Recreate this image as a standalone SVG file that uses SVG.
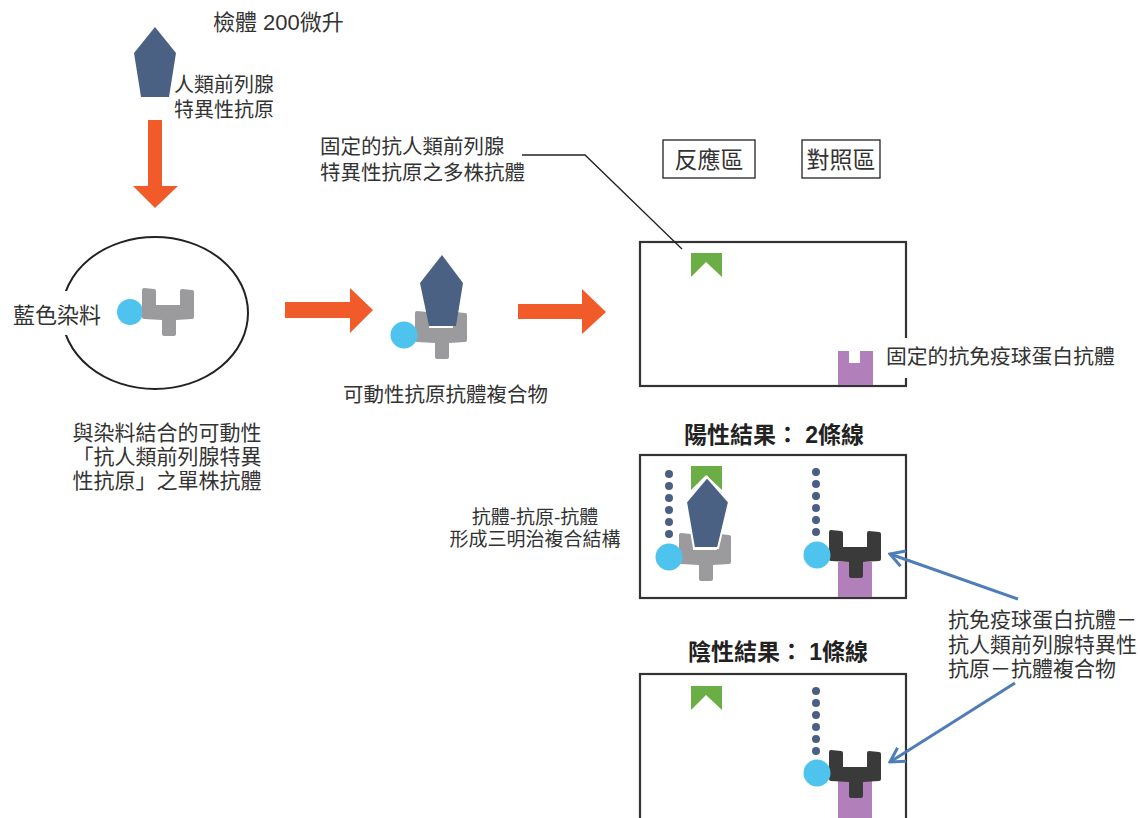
<svg xmlns="http://www.w3.org/2000/svg" width="1140" height="818" viewBox="0 0 1140 818">
  <style>
    .t { font-family: "Liberation Sans", "Noto Sans CJK TC", sans-serif; fill: #333; }
    .b { font-family: "Liberation Sans", "Noto Sans CJK TC", sans-serif; fill: #222; font-weight: bold; }
    .flow { fill: #F15A29; }
    .ag { fill: #4B6184; }
    .dye { fill: #4DC3EE; }
    .gray { fill: #9B9B9E; }
    .dark { fill: #3A3A3A; }
    .green { fill: #6AAE45; }
    .purple { fill: #B17FBA; }
    .dot { fill: #4A5F82; }
    .frame { fill: #fff; stroke: #333; stroke-width: 2.2; }
    .lead { fill: none; stroke: #222; stroke-width: 1.3; }
    .ptr { fill: none; stroke: #4F7DB8; stroke-width: 3; }
  </style>
  <defs>
    <!-- Y-shaped antibody, arms up, 52 x 48 -->
    <path id="ab" d="M2,0 L12,1 Q14,1 14,3 L14,17 L38,17 L38,3 Q38,1 40,1 L50,2 Q52,2 52,4 L52,29 Q52,31 50,31 L34,32 L34,46 Q34,48 32,48 L22,48 Q20,48 20,46 L20,32 L2,31 Q0,31 0,29 L0,2 Q0,0 2,0 Z"/>
    <!-- six-dot dye trail -->
    <g id="dots" class="dot">
      <circle cx="0" cy="0" r="4"/>
      <circle cx="0" cy="12" r="4"/>
      <circle cx="0" cy="24" r="4"/>
      <circle cx="0" cy="36" r="4"/>
      <circle cx="0" cy="48" r="4"/>
      <circle cx="0" cy="60" r="4"/>
    </g>
    <marker id="open" viewBox="-16 -10 18 20" markerWidth="18" markerHeight="20" refX="0" refY="0" markerUnits="userSpaceOnUse" orient="auto">
      <path d="M-14,-8 L0,0 L-14,8" fill="none" stroke="#4F7DB8" stroke-width="3"/>
    </marker>
  </defs>

  <rect width="1140" height="818" fill="#fff"/>

  <!-- sample -->
  <g id="sample">
    <text class="t" x="213" y="30" font-size="22">檢體 200微升</text>
    <polygon class="ag" points="155,27 176,53 169,97 141,97 134,53"/>
    <text class="t" x="174" y="92" font-size="20">人類前列腺</text>
    <text class="t" x="174" y="117" font-size="20">特異性抗原</text>
  </g>

  <!-- labelled dye-antibody conjugate -->
  <g id="conjugate">
    <ellipse cx="155" cy="313" rx="93" ry="76" fill="none" stroke="#222" stroke-width="2"/>
    <rect x="8" y="291" width="96" height="44" fill="#fff"/>
    <text class="t" x="13" y="323" font-size="22">藍色染料</text>
    <circle class="dye" cx="130" cy="312" r="13"/>
    <use href="#ab" class="gray" x="142" y="288"/>
    <text class="t" x="167" y="440" font-size="21" text-anchor="middle">與染料結合的可動性</text>
    <text class="t" x="167" y="464" font-size="21" text-anchor="middle">「抗人類前列腺特異</text>
    <text class="t" x="167" y="488" font-size="21" text-anchor="middle">性抗原」之單株抗體</text>
  </g>

  <!-- mobile antigen-antibody complex -->
  <g id="complex">
    <use href="#ab" class="gray" x="415" y="311"/>
    <polygon class="ag" points="442,255 463,283 456,326 429,326 420,283"/>
    <circle class="dye" cx="404" cy="335" r="13.5"/>
    <text class="t" x="343" y="402" font-size="20.5">可動性抗原抗體複合物</text>
  </g>

  <!-- zone labels -->
  <g id="zone-labels">
    <rect x="663" y="140" width="92" height="38" fill="#fff" stroke="#222" stroke-width="1.3"/>
    <text class="t" x="709" y="168" font-size="23" text-anchor="middle">反應區</text>
    <rect x="802" y="140" width="78" height="38" fill="#fff" stroke="#222" stroke-width="1.3"/>
    <text class="t" x="841" y="168" font-size="23" text-anchor="middle">對照區</text>
    <text class="t" x="320" y="154" font-size="20.5">固定的抗人類前列腺</text>
    <text class="t" x="320" y="180" font-size="20.5">特異性抗原之多株抗體</text>
  </g>

  <!-- test strip -->
  <g id="strip">
    <rect class="frame" x="640" y="242" width="266" height="144"/>
    <path class="green" d="M691,253 L722,253 L722,277 L706,262 L691,277 Z"/>
    <path class="purple" d="M838,351 L849,351 L849,363 L860,363 L860,351 L873,351 L873,385 L838,385 Z"/>
    <rect x="884" y="338" width="252" height="40" fill="#fff"/>
    <text class="t" x="886" y="364" font-size="20.8">固定的抗免疫球蛋白抗體</text>
  </g>

  <!-- positive result -->
  <g id="positive">
    <text class="b" x="774" y="443" font-size="23" text-anchor="middle">陽性結果： 2條線</text>
    <rect class="frame" x="640" y="455" width="266" height="143"/>
    <path class="green" d="M691,466 L722,466 L722,490 L706,475 L691,490 Z"/>
    <use href="#dots" x="669" y="474"/>
    <use href="#ab" class="gray" x="679" y="533"/>
    <polygon class="ag" points="707,477 729,502 718,548 694,548 686,502" stroke="#fff" stroke-width="2"/>
    <circle class="dye" cx="669" cy="557" r="13.5"/>
    <rect class="purple" x="838" y="562" width="34" height="35"/>
    <use href="#dots" x="816" y="472"/>
    <use href="#ab" class="dark" x="829" y="530"/>
    <circle class="dye" cx="817" cy="555" r="13.5"/>
    <text class="t" x="535" y="524" font-size="19" text-anchor="middle">抗體-抗原-抗體</text>
    <text class="t" x="535" y="546" font-size="19" text-anchor="middle">形成三明治複合結構</text>
  </g>

  <!-- negative result -->
  <g id="negative">
    <text class="b" x="778" y="660" font-size="23" text-anchor="middle">陰性結果： 1條線</text>
    <rect class="frame" x="640" y="674" width="266" height="160"/>
    <path class="green" d="M691,686 L722,686 L722,710 L706,695 L691,710 Z"/>
    <rect class="purple" x="838" y="780" width="34" height="40"/>
    <use href="#dots" x="816" y="691"/>
    <use href="#ab" class="dark" x="829" y="750"/>
    <circle class="dye" cx="817" cy="773" r="13.5"/>
  </g>

  <!-- pointer label -->
  <g id="sandwich-label">
    <text class="t" x="948" y="627" font-size="21">抗免疫球蛋白抗體－</text>
    <text class="t" x="948" y="652" font-size="21">抗人類前列腺特異性</text>
    <text class="t" x="948" y="676" font-size="21">抗原－抗體複合物</text>
  </g>

  <!-- connectors, drawn last so they sit over the strip frames -->
  <g id="connectors">
    <path class="flow" d="M148,120 L162,120 L162,186 L178,186 L155,208 L133,186 L148,186 Z"/>
    <path class="flow" d="M285,302 L350,302 L350,288 L373,310 L350,333 L350,318 L285,318 Z"/>
    <path class="flow" d="M518,304 L582,304 L582,289 L606,312 L582,334 L582,319 L518,319 Z"/>
    <polyline class="lead" points="522,155 585,155 682,249"/>
    <line class="ptr" x1="1018" y1="599" x2="890" y2="554" marker-end="url(#open)"/>
    <line class="ptr" x1="1015" y1="683" x2="890" y2="762" marker-end="url(#open)"/>
  </g>
</svg>
